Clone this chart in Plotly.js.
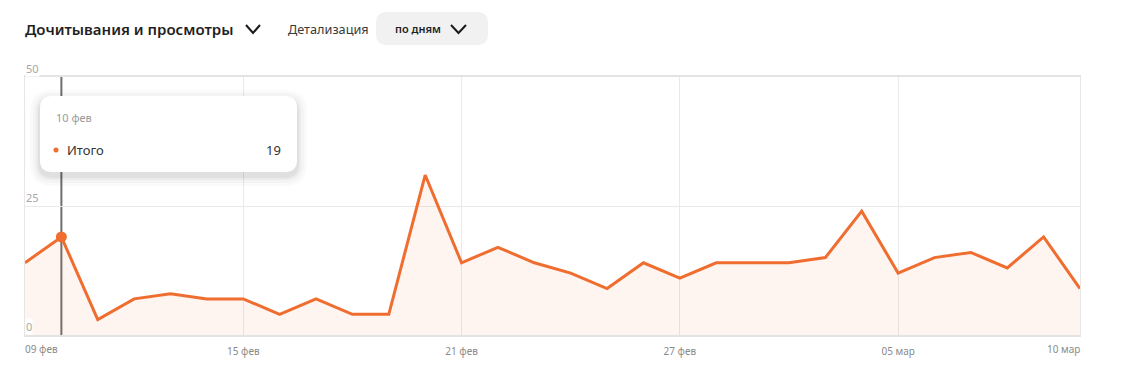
<!DOCTYPE html>
<html>
<head>
<meta charset="utf-8">
<script src="https://cdn.plot.ly/plotly-3.0.1.min.js"></script>
<style>
  html, body { margin: 0; padding: 0; background: #ffffff; }
  #chart { width: 1121px; height: 381px; }
</style>
</head>
<body>
<div id="chart"></div>
<script>
// ---- data ----
const dates = ['2025-02-09','2025-02-10','2025-02-11','2025-02-12','2025-02-13','2025-02-14','2025-02-15',
  '2025-02-16','2025-02-17','2025-02-18','2025-02-19','2025-02-20','2025-02-21','2025-02-22','2025-02-23',
  '2025-02-24','2025-02-25','2025-02-26','2025-02-27','2025-02-28','2025-03-01','2025-03-02','2025-03-03',
  '2025-03-04','2025-03-05','2025-03-06','2025-03-07','2025-03-08','2025-03-09','2025-03-10'];
const values = [14,19,3,7,8,7,7,4,7,4,4,31,14,17,14,12,9,14,11,14,14,14,15,24,12,15,16,13,19,9];
const tickVals = ['2025-02-09','2025-02-15','2025-02-21','2025-02-27','2025-03-05','2025-03-10'];
const tickText = ['09 фев','15 фев','21 фев','27 фев','05 мар','10 мар'];
const yTicks = [0, 25, 50];
const seriesName = 'Итого';
const hoverIndex = 1;
const hoverLabel = '10 фев';
const chartTitle = 'Дочитывания и просмотры';
const detailLabel = 'Детализация';
const detailValue = 'по дням';

// ---- geometry helpers ----
const W = 1121, H = 381;
const M = {l: 25, r: 41, t: 77, b: 46};
const PW = W - M.l - M.r, PH = H - M.t - M.b;
const px = x => (x - M.l) / PW;
const py = y => (H - M.b - y) / PH;
function rr(x0, y0, x1, y1, r) {
  const P = (x, y) => px(x).toFixed(5) + ',' + py(y).toFixed(5);
  return 'M' + P(x0 + r, y0) + ' L' + P(x1 - r, y0) + ' Q' + P(x1, y0) + ' ' + P(x1, y0 + r) +
    ' L' + P(x1, y1 - r) + ' Q' + P(x1, y1) + ' ' + P(x1 - r, y1) +
    ' L' + P(x0 + r, y1) + ' Q' + P(x0, y1) + ' ' + P(x0, y1 - r) +
    ' L' + P(x0, y0 + r) + ' Q' + P(x0, y0) + ' ' + P(x0 + r, y0) + ' Z';
}
function chevron(x0, y0, x1, y1) {
  const xm = (x0 + x1) / 2;
  return 'M' + px(x0) + ',' + py(y0) + ' L' + px(xm) + ',' + py(y1) + ' L' + px(x1) + ',' + py(y0);
}

const ORANGE = '#f06d30';
const FONT = '"Noto Sans", "Open Sans", Arial, sans-serif';
const GRID = '#e9e9e9';

const traces = [
  {
    x: dates, y: values, type: 'scatter', mode: 'lines', name: seriesName,
    line: {color: ORANGE, width: 3},
    fill: 'tozeroy', fillcolor: 'rgba(240,109,48,0.075)',
    hoverinfo: 'skip'
  },
  {
    x: [dates[hoverIndex]], y: [values[hoverIndex]], type: 'scatter', mode: 'markers',
    marker: {color: ORANGE, size: 11}, hoverinfo: 'skip', showlegend: false
  }
];

const shapes = [
  // cursor line
  {type: 'line', xref: 'x', yref: 'paper', x0: dates[hoverIndex], x1: dates[hoverIndex], y0: 0, y1: 1,
   line: {color: '#6e6e6e', width: 2}, layer: 'below'},
  // header button
  {type: 'path', xref: 'paper', yref: 'paper', path: rr(376, 12, 488, 45, 11),
   fillcolor: '#f1f1f1', line: {width: 0}},
  // chevrons
  {type: 'path', xref: 'paper', yref: 'paper', path: chevron(246, 25, 260, 33),
   line: {color: '#1a1a1a', width: 2}},
  {type: 'path', xref: 'paper', yref: 'paper', path: chevron(451, 25, 466, 33),
   line: {color: '#1a1a1a', width: 2}},
];
// tooltip shadow layers
[[10, 0.018], [7, 0.025], [4, 0.035], [2, 0.045]].forEach(([s, a]) => {
  shapes.push({type: 'path', xref: 'paper', yref: 'paper', layer: 'above',
    path: rr(40 - s, 96 - s + 4, 297 + s, 172 + s + 4, 12 + s),
    fillcolor: 'rgba(0,0,0,' + a + ')', line: {width: 0}});
});
shapes.push({type: 'path', xref: 'paper', yref: 'paper', layer: 'above',
  path: rr(40, 96, 297, 172, 12), fillcolor: '#ffffff', line: {width: 0}});
shapes.push({type: 'circle', xref: 'paper', yref: 'paper', layer: 'above',
  x0: px(53.5), x1: px(58.5), y0: py(152.5), y1: py(147.5),
  fillcolor: ORANGE, line: {width: 0}});

const annotations = [
  {text: chartTitle, xref: 'paper', yref: 'paper', x: px(23), y: py(29),
   xanchor: 'left', yanchor: 'middle', showarrow: false,
   font: {family: FONT, size: 15, weight: 600, color: '#1f1f1f'}},
  {text: detailLabel, xref: 'paper', yref: 'paper', x: px(286), y: py(29),
   xanchor: 'left', yanchor: 'middle', showarrow: false, font: {family: FONT, size: 12.7, color: '#3a3a3a'}},
  {text: detailValue, xref: 'paper', yref: 'paper', x: px(393), y: py(29),
   xanchor: 'left', yanchor: 'middle', showarrow: false,
   font: {family: FONT, size: 11, weight: 600, color: '#1f1f1f'}},
  // tooltip
  {text: hoverLabel, xref: 'paper', yref: 'paper', x: px(54), y: py(118),
   xanchor: 'left', yanchor: 'middle', showarrow: false, font: {family: FONT, size: 11, color: '#9a9a9a'}},
  {text: seriesName, xref: 'paper', yref: 'paper', x: px(65), y: py(150),
   xanchor: 'left', yanchor: 'middle', showarrow: false, font: {family: FONT, size: 13, color: '#333333'}},
  {text: String(values[hoverIndex]), xref: 'paper', yref: 'paper', x: px(283), y: py(150),
   xanchor: 'right', yanchor: 'middle', showarrow: false, font: {family: FONT, size: 13, color: '#333333'}},
  // edge x tick labels
  {text: tickText[0], xref: 'x', yref: 'paper', x: tickVals[0], y: py(349),
   xanchor: 'left', yanchor: 'middle', showarrow: false, xshift: -2, font: {family: FONT, size: 10, color: '#8a8a8a'}},
  {text: tickText[tickText.length - 1], xref: 'x', yref: 'paper', x: tickVals[tickVals.length - 1], y: py(349),
   xanchor: 'right', yanchor: 'middle', showarrow: false, xshift: 2, font: {family: FONT, size: 10, color: '#8a8a8a'}},
];
// y tick labels (inside, above each gridline)
yTicks.forEach(v => {
  annotations.push({text: String(v), xref: 'paper', yref: 'y', x: 0, y: v,
    xanchor: 'left', yanchor: 'bottom', showarrow: false, xshift: 0, yshift: 0,
    bgcolor: '#ffffff', borderpad: 0,
    font: {family: FONT, size: 11, color: '#a8a8a8'}});
});

const layout = {
  width: W, height: H,
  margin: M,
  paper_bgcolor: '#ffffff', plot_bgcolor: '#ffffff',
  showlegend: false,
  hovermode: false,
  font: {family: FONT},
  xaxis: {
    type: 'date',
    range: [dates[0], dates[dates.length - 1]],
    tickvals: tickVals.slice(1, -1), ticktext: tickText.slice(1, -1),
    showgrid: true, gridcolor: GRID, gridwidth: 1,
    zeroline: false, showline: true, mirror: true, linecolor: '#e3e3e3', linewidth: 2,
    ticks: '', ticklabelstandoff: 6,
    tickfont: {family: FONT, size: 10, color: '#8a8a8a'},
    fixedrange: true
  },
  yaxis: {
    range: [0, 50],
    tickvals: yTicks,
    showticklabels: false,
    showgrid: true, gridcolor: GRID, gridwidth: 1,
    zeroline: false, showline: true, mirror: true, linecolor: '#e6e6e6', linewidth: 1,
    ticks: '',
    fixedrange: true
  },
  shapes: shapes,
  annotations: annotations
};

Plotly.newPlot('chart', traces, layout, {displayModeBar: false, staticPlot: true});
</script>
</body>
</html>
